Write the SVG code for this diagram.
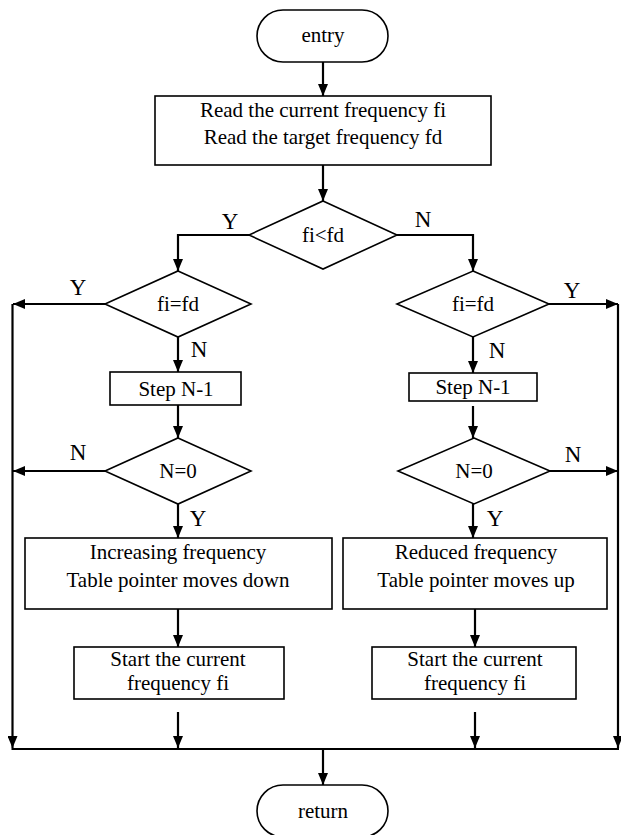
<svg xmlns="http://www.w3.org/2000/svg" width="621" height="835" viewBox="0 0 621 835">
<defs>
<marker id="ah" markerUnits="userSpaceOnUse" markerWidth="12" markerHeight="10" refX="12" refY="5" orient="auto">
<path d="M0,0 L12,5 L0,10 z" fill="#000"/>
</marker>
<style>
.box{fill:#fff;stroke:#000;stroke-width:1.6}
.ln{fill:none;stroke:#000;stroke-width:2.2}
.ar{fill:none;stroke:#000;stroke-width:2.2;marker-end:url(#ah)}
.t{font-family:"Liberation Serif","Times New Roman",serif;font-size:21px;text-anchor:middle;fill:#000}
.lb{font-family:"Liberation Serif","Times New Roman",serif;font-size:23px;text-anchor:middle;fill:#000}
</style>
</defs>
<rect width="621" height="835" fill="#fff"/>
<g id="connectors">
<line class="ar" x1="323" y1="62" x2="323" y2="96"/>
<line class="ar" x1="323" y1="165" x2="323" y2="201"/>
<polyline class="ar" points="249,235 178,235 178,271"/>
<polyline class="ar" points="397,235 473,235 473,271"/>
<line class="ar" x1="105" y1="304" x2="13" y2="304"/>
<line class="ar" x1="549" y1="304" x2="618" y2="304"/>
<line class="ar" x1="178" y1="337" x2="178" y2="372"/>
<line class="ar" x1="473" y1="337" x2="473" y2="373"/>
<line class="ar" x1="178" y1="405" x2="178" y2="438"/>
<line class="ar" x1="473" y1="406" x2="473" y2="438"/>
<line class="ar" x1="105" y1="471" x2="13" y2="471"/>
<line class="ar" x1="550" y1="471" x2="618" y2="471"/>
<line class="ar" x1="178" y1="504" x2="178" y2="538"/>
<line class="ar" x1="473" y1="504" x2="473" y2="538"/>
<line class="ar" x1="178" y1="609" x2="178" y2="647"/>
<line class="ar" x1="475" y1="609" x2="475" y2="647"/>
<line class="ar" x1="178" y1="712" x2="178" y2="748"/>
<line class="ar" x1="475" y1="712" x2="475" y2="748"/>
<line class="ar" x1="12.5" y1="304" x2="12.5" y2="748"/>
<line class="ar" x1="618" y1="304" x2="618" y2="748"/>
<line class="ln" x1="11.5" y1="749" x2="619" y2="749"/>
<line class="ar" x1="323" y1="749" x2="323" y2="785"/>
<text class="lb" x="230" y="229">Y</text>
<text class="lb" x="423" y="227">N</text>
<text class="lb" x="78" y="295">Y</text>
<text class="lb" x="572" y="298">Y</text>
<text class="lb" x="199" y="357">N</text>
<text class="lb" x="497" y="358">N</text>
<text class="lb" x="78" y="460">N</text>
<text class="lb" x="573" y="462">N</text>
<text class="lb" x="198" y="526">Y</text>
<text class="lb" x="495" y="526">Y</text>
</g>
<g id="entry">
<rect class="box" x="257" y="10" width="131" height="52" rx="26"/>
<text class="t" x="323" y="42">entry</text>
</g>
<g id="read">
<rect class="box" x="155" y="96" width="336" height="69"/>
<text class="t" x="323" y="117">Read the current frequency fi</text>
<text class="t" x="323" y="144">Read the target frequency fd</text>
</g>
<g id="cmp">
<polygon class="box" points="323,201 397,235 323,269 249,235"/>
<text class="t" x="323" y="242">fi&lt;fd</text>
</g>
<g id="eqL">
<polygon class="box" points="178,271 251,304 178,337 105,304"/>
<text class="t" x="178" y="311">fi=fd</text>
</g>
<g id="eqR">
<polygon class="box" points="473,271 549,304 473,337 397,304"/>
<text class="t" x="473" y="311">fi=fd</text>
</g>
<g id="stepL">
<rect class="box" x="110" y="372" width="131" height="33"/>
<text class="t" x="176" y="396">Step N-1</text>
</g>
<g id="stepR">
<rect class="box" x="409" y="373" width="128" height="28"/>
<text class="t" x="473" y="394">Step N-1</text>
</g>
<g id="zeroL">
<polygon class="box" points="178,438 251,471 178,504 105,471"/>
<text class="t" x="178" y="478">N=0</text>
</g>
<g id="zeroR">
<polygon class="box" points="474,438 550,471 474,504 398,471"/>
<text class="t" x="474" y="478">N=0</text>
</g>
<g id="inc">
<rect class="box" x="25" y="538" width="307" height="71"/>
<text class="t" x="178" y="559">Increasing frequency</text>
<text class="t" x="178" y="587">Table pointer moves down</text>
</g>
<g id="red">
<rect class="box" x="343" y="538" width="264" height="71"/>
<text class="t" x="476" y="559">Reduced frequency</text>
<text class="t" x="476" y="587">Table pointer moves up</text>
</g>
<g id="startL">
<rect class="box" x="74" y="647" width="210" height="52"/>
<text class="t" x="178" y="666">Start the current</text>
<text class="t" x="178" y="690">frequency fi</text>
</g>
<g id="startR">
<rect class="box" x="372" y="647" width="204" height="52"/>
<text class="t" x="475" y="666">Start the current</text>
<text class="t" x="475" y="690">frequency fi</text>
</g>
<g id="return">
<rect class="box" x="257" y="785" width="131" height="52" rx="26"/>
<text class="t" x="323" y="818">return</text>
</g>
</svg>
